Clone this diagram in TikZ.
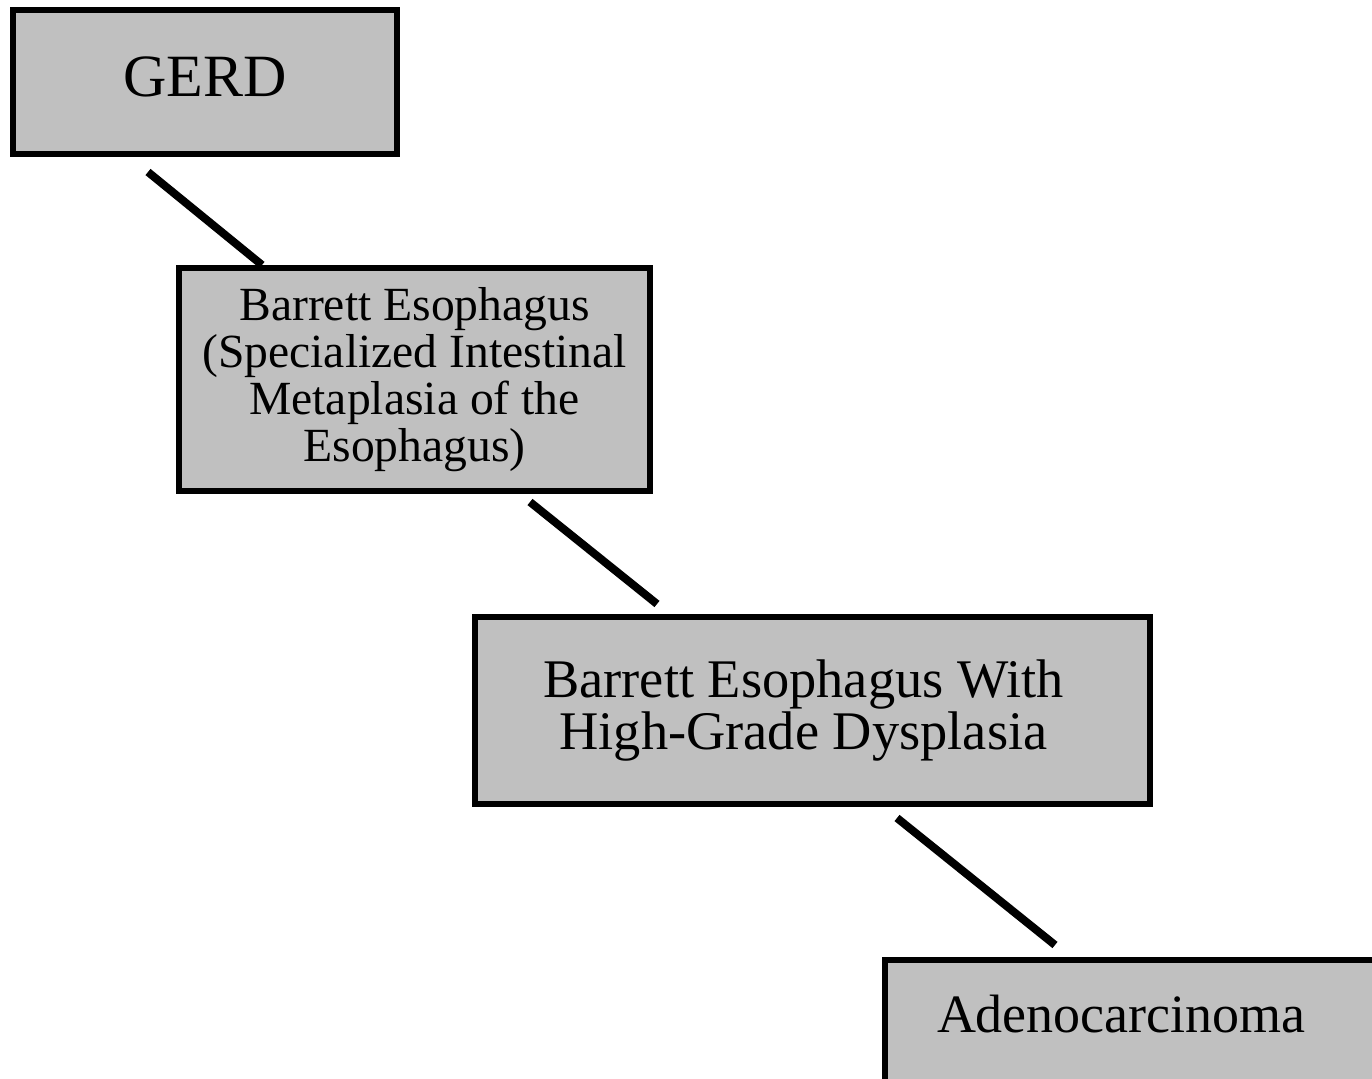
\documentclass[tikz,border=0pt]{standalone}
\usepackage{fontspec}
\setmainfont{Liberation Serif}
\usetikzlibrary{calc}
\definecolor{boxgray}{RGB}{192,192,192}
\tikzset{
	stage/.style={draw, fill=boxgray, line width=3pt, rectangle, anchor=north west,
		outer sep=0pt, inner sep=0pt, align=center},
	link/.style={line width=4pt, line cap=butt}
}
\begin{document}
\begin{tikzpicture}[x=0.5pt, y=-0.5pt, line join=miter]
			\useasboundingbox (0,0) rectangle (1372,1079);
			\clip (0,0) rectangle (1372,1079);
			% stages
			\node[stage, minimum width=192pt, text height=43.5pt, text depth=28.5pt,
				font=\fontsize{30}{30}\selectfont] (gerd) at (13,10) {GERD};
			\node[stage, minimum width=235.5pt, minimum height=111.5pt,
				font=\fontsize{23.8}{23.5}\selectfont] (bes) at (179,268)
				{Barrett Esophagus\\(Specialized Intestinal\\Metaplasia of the\\Esophagus)};
			\node[stage, minimum width=337.5pt, minimum height=93.5pt,
				font=\fontsize{27.2}{23.5}\selectfont] (hgd) at (475,617)
				{Barrett Esophagus With\hspace*{9pt}\\High-Grade Dysplasia\hspace*{9pt}};
			\node[stage, align=left, text width=260pt, inner xsep=26pt, text height=36pt,
				text depth=50pt, font=\fontsize{27}{27}\selectfont] (adeno) at (885,960)
				{Adenocarcinoma};
			% links
			\draw[link] ($(gerd.south west)+(135,18)$) -- ($(bes.north west)+(83,-3)$);
			\draw[link] ($(bes.south west)+(351,11)$) -- ($(hgd.north west)+(182,-13)$);
			\draw[link] ($(hgd.south west)+(422,14)$) -- ($(adeno.north west)+(170,-15)$);
\end{tikzpicture}
\end{document}
